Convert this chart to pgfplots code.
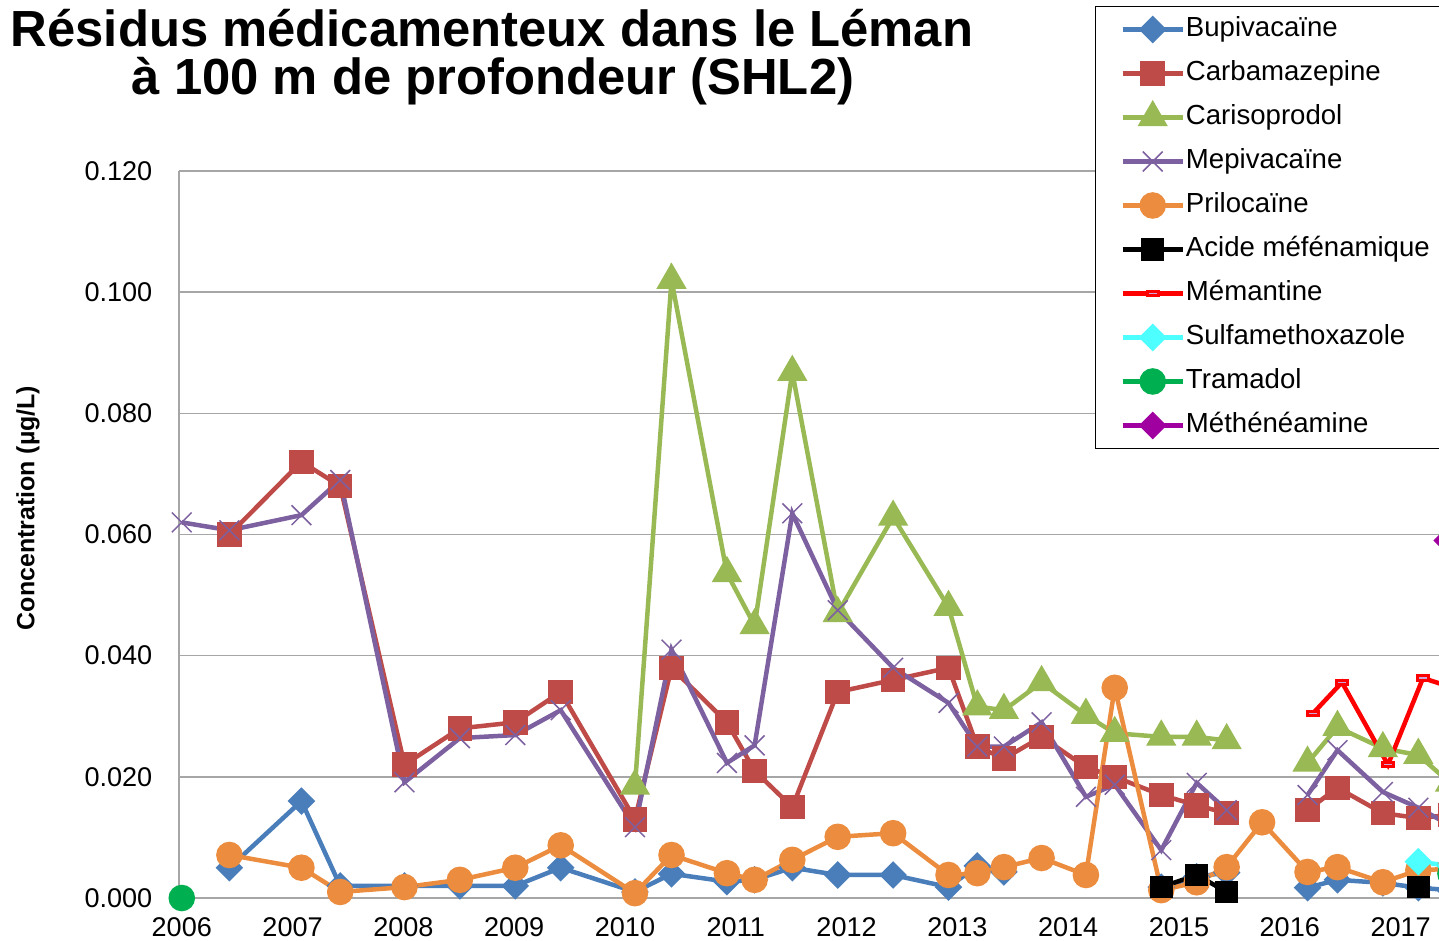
\documentclass[border=0pt]{standalone}
\usepackage{fontspec}
\setmainfont{Liberation Sans}
\usepackage{pgfplots}
\pgfplotsset{compat=1.18}
\definecolor{cBupi}{HTML}{4A7EBB}
\definecolor{cCarba}{HTML}{BE4B48}
\definecolor{cCari}{HTML}{98B954}
\definecolor{cMepi}{HTML}{7D60A0}
\definecolor{cPrilo}{HTML}{EB8C3E}
\definecolor{cMem}{HTML}{FF0000}
\definecolor{cSulfa}{HTML}{4DFFFF}
\definecolor{cTram}{HTML}{00B050}
\definecolor{cMeth}{HTML}{A000A0}
\definecolor{gridgray}{HTML}{A6A6A6}
\begin{document}
\begin{tikzpicture}
\node[anchor=base, font=\bfseries\fontsize{14.45}{14.45}\selectfont] at (4.92cm,-0.46cm) {Résidus médicamenteux dans le Léman};
\node[anchor=base, font=\bfseries\fontsize{14.45}{14.45}\selectfont] at (4.93cm,-0.94cm) {à 100 m de profondeur (SHL2)};
\begin{axis}[
  at={(1.79cm,-8.98cm)}, anchor=south west,
  scale only axis, width=13.21cm, height=7.27cm,
  xmin=2005.975, xmax=2017.897, ymin=0, ymax=0.12,
  axis x line*=bottom, axis y line*=left,
  axis line style={gridgray, line width=0.15mm},
  major tick length=0pt,
  xtick={2006,2007,2008,2009,2010,2011,2012,2013,2014,2015,2016,2017},
  ytick={0,0.02,0.04,0.06,0.08,0.1,0.12},
  scaled y ticks=false,
  ymajorgrids, grid style={gridgray, line width=0.15mm},
  /pgf/number format/assume math mode=true,
  tick label style={font=\fontsize{7.7}{9}\selectfont},
  yticklabel style={/pgf/number format/.cd, fixed, fixed zerofill, precision=3, /tikz/.cd, inner sep=0pt, xshift=-2.6mm},
  xticklabel style={/pgf/number format/.cd, 1000 sep={}, /tikz/.cd, inner sep=0pt, yshift=-1.9mm},
  ylabel={Concentration (µg/L)},
  ylabel style={at={(axis description cs:-0.1143,0.5365)}, anchor=center, font=\bfseries\fontsize{7.1}{8}\selectfont},
  unbounded coords=jump,
  every axis plot/.append style={line width=0.45mm},
  legend cell align=left,
  legend style={at={(0.6934,1.2270)}, anchor=north west, draw=black, line width=0.1mm,
    inner xsep=2.5mm, inner ysep=1.0mm, row sep=1.8mm, column sep=0.1mm,
    font=\fontsize{7.85}{9.4}\selectfont,
    nodes={inner sep=0pt, text height=2.0mm, text depth=0.6mm}},
]
% Bupivacaine
\addplot[cBupi, mark=square*, mark size=0.75mm, mark options={solid, rotate=45, fill=cBupi}] coordinates {
(2006.43,0.005) (2007.08,0.016) (2007.43,0.002) (2008.01,0.002) (2008.51,0.002) (2009.01,0.002) (2009.42,0.005)
(2010.09,0.001) (2010.42,0.004) (2010.92,0.0027) (2011.17,0.003) (2011.51,0.005) (2011.92,0.0038) (2012.42,0.0038)
(2012.92,0.0018) (2013.18,0.0053) (2013.42,0.0043) (2013.6,nan)
(2014.84,0.0018) (2015.16,0.0035) (2015.43,0.0042) (2015.75,nan)
(2016.16,0.0017) (2016.43,0.003) (2016.84,0.0025) (2017.16,0.0017) (2017.446,0.0013)};
\addlegendentry{Bupivacaïne}
% Carbamazepine
\addplot[cCarba, mark=square*, mark size=1mm, mark options={solid, fill=cCarba}] coordinates {
(2006.43,0.060) (2007.08,0.072) (2007.43,0.068) (2008.01,0.022) (2008.51,0.028) (2009.01,0.029) (2009.42,0.034)
(2010.09,0.013) (2010.42,0.038) (2010.92,0.029) (2011.17,0.021) (2011.51,0.015) (2011.92,0.034) (2012.42,0.036)
(2012.92,0.038) (2013.18,0.025) (2013.42,0.023) (2013.76,0.0266) (2014.16,0.0216) (2014.42,0.020) (2014.84,0.017)
(2015.16,0.0153) (2015.43,0.014) (2015.75,nan)
(2016.16,0.0145) (2016.43,0.0182) (2016.84,0.014) (2017.16,0.0132) (2017.446,0.0137)};
\addlegendentry{Carbamazepine}
% Carisoprodol
\addplot[cCari, mark=triangle*, mark size=1.3mm, mark options={solid, fill=cCari}] coordinates {
(2010.09,0.0185) (2010.42,0.102) (2010.92,0.0536) (2011.17,0.045) (2011.51,0.0868) (2011.92,0.047) (2012.42,0.0629)
(2012.92,0.048) (2013.18,0.0316) (2013.42,0.031) (2013.76,0.0356) (2014.16,0.0302) (2014.42,0.0272) (2014.84,0.0266)
(2015.16,0.0266) (2015.43,0.026) (2015.75,nan)
(2016.16,0.0223) (2016.43,0.0282) (2016.84,0.0247) (2017.16,0.0236) (2017.446,0.019)};
\addlegendentry{Carisoprodol}
% Mepivacaine
\addplot[cMepi, mark=x, mark size=1.4mm, mark options={solid, line width=0.15mm}] coordinates {
(2006.00,0.062) (2006.43,0.0607) (2007.08,0.0632) (2007.43,0.069) (2008.01,0.0191) (2008.51,0.0264) (2009.01,0.0269)
(2009.42,0.031) (2010.09,0.0117) (2010.42,0.041) (2010.92,0.0223) (2011.17,0.0252) (2011.51,0.0635) (2011.92,0.0475)
(2012.42,0.038) (2012.92,0.0322) (2013.18,0.025) (2013.42,0.025) (2013.76,0.029) (2014.16,0.0167) (2014.42,0.0187)
(2014.84,0.0079) (2015.16,0.019) (2015.43,0.0145) (2015.75,nan)
(2016.16,0.017) (2016.43,0.0244) (2016.84,0.0175) (2017.16,0.0149) (2017.446,0.012)};
\addlegendentry{Mepivacaïne}
% Prilocaine
\addplot[cPrilo, mark=*, mark size=1.1mm, mark options={solid, fill=cPrilo}] coordinates {
(2006.43,0.0071) (2007.08,0.005) (2007.43,0.001) (2008.01,0.0018) (2008.51,0.003) (2009.01,0.005) (2009.42,0.0087)
(2010.09,0.0008) (2010.42,0.0071) (2010.92,0.0041) (2011.17,0.003) (2011.51,0.0063) (2011.92,0.0101) (2012.42,0.0107)
(2012.92,0.0038) (2013.18,0.0041) (2013.42,0.0051) (2013.76,0.0066) (2014.16,0.0038) (2014.42,0.0347) (2014.84,0.0013)
(2015.16,0.0026) (2015.43,0.0051) (2015.75,0.0125) (2016.16,0.0043) (2016.43,0.0051) (2016.84,0.0026) (2017.16,0.0046)
(2017.446,0.0048)};
\addlegendentry{Prilocaïne}
% Acide mefenamique
\addplot[black, mark=square*, mark size=0.9mm, mark options={solid, fill=black}] coordinates {
(2014.84,0.0018) (2015.16,0.0038) (2015.43,0.001) (2015.75,nan) (2017.16,0.0018)};
\addlegendentry{Acide méfénamique}
% Memantine
\addplot[cMem, mark=square*, mark size=0.55mm, mark options={solid, yscale=0.4, fill=red!45!blue!35, draw=cMem, line width=0.3mm}] coordinates {
(2016.21,0.0305) (2016.471,0.0356) (2016.886,0.022) (2017.202,0.0363) (2017.509,0.0345)};
\addlegendentry{Mémantine}
% Sulfamethoxazole
\addplot[cSulfa, mark=square*, mark size=0.75mm, mark options={solid, rotate=45, fill=cSulfa}] coordinates {
(2017.16,0.006) (2017.446,0.0053)};
\addlegendentry{Sulfamethoxazole}
% Tramadol
\addplot[cTram, mark=*, mark size=1.1mm, mark options={solid, fill=cTram}] coordinates {
(2006.00,0.0) (2012.0,nan) (2017.45,0.004)};
\addlegendentry{Tramadol}
% Methenamine
\addplot[cMeth, mark=square*, mark size=0.75mm, mark options={solid, rotate=45, fill=cMeth}] coordinates {
(2017.42,0.059)};
\addlegendentry{Méthénéamine}
\end{axis}
\pgfresetboundingbox
\path[use as bounding box] (0,0) rectangle (14.39cm,-9.40cm);
\end{tikzpicture}
\end{document}
